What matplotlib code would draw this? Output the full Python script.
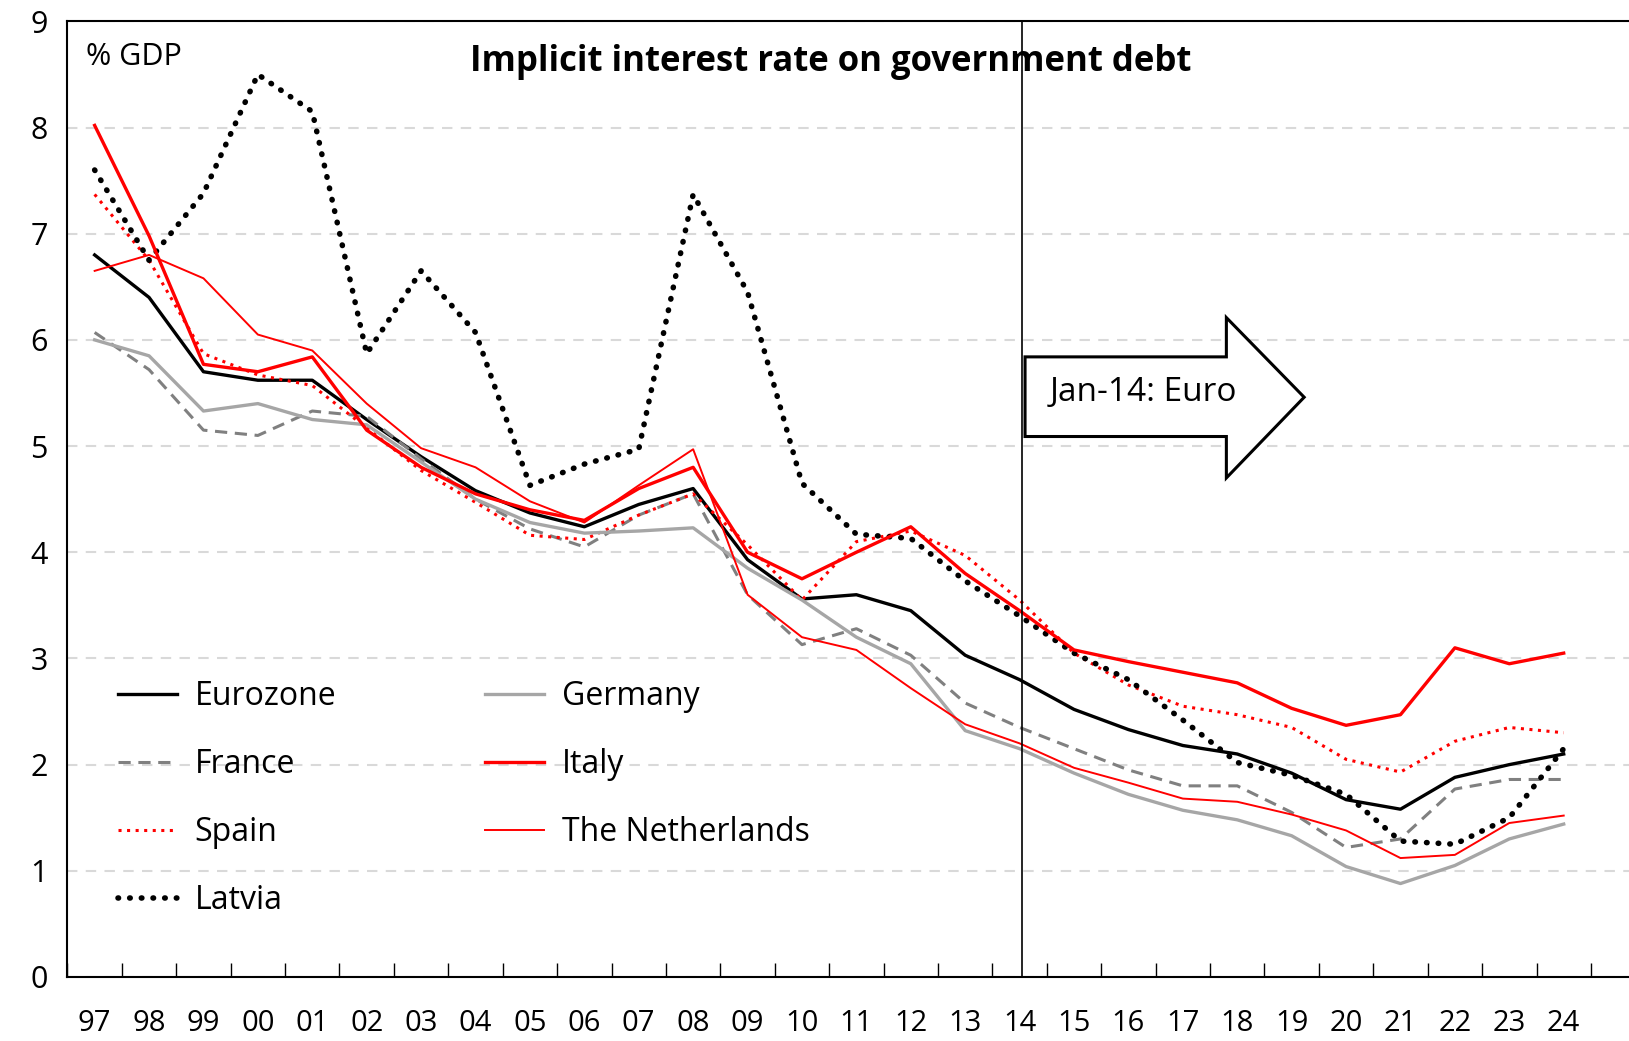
import numpy as np
import matplotlib.pyplot as plt
from matplotlib.patches import Polygon

years = ['97', '98', '99', '00', '01', '02', '03', '04', '05', '06', '07', '08', '09', '10',
         '11', '12', '13', '14', '15', '16', '17', '18', '19', '20', '21', '22', '23', '24']

eurozone = [6.8, 6.4, 5.7, 5.62, 5.62, 5.25, 4.9, 4.58, 4.37, 4.24, 4.45, 4.6, 3.93, 3.56,
            3.6, 3.45, 3.03, 2.8, 2.52, 2.33, 2.18, 2.1, 1.92, 1.67, 1.58, 1.88, 2.0, 2.1]
germany = [6.0, 5.85, 5.33, 5.4, 5.25, 5.2, 4.85, 4.5, 4.28, 4.18, 4.2, 4.23, 3.85, 3.55,
           3.2, 2.95, 2.32, 2.15, 1.92, 1.72, 1.57, 1.48, 1.33, 1.04, 0.88, 1.05, 1.3, 1.44]
france = [6.07, 5.72, 5.15, 5.1, 5.33, 5.28, 4.88, 4.5, 4.22, 4.05, 4.35, 4.55, 3.6, 3.13,
          3.28, 3.03, 2.58, 2.35, 2.15, 1.95, 1.8, 1.8, 1.55, 1.22, 1.3, 1.77, 1.86, 1.86]
italy = [8.02, 6.98, 5.77, 5.7, 5.84, 5.15, 4.8, 4.55, 4.4, 4.3, 4.6, 4.8, 4.0, 3.75,
         4.0, 4.24, 3.8, 3.45, 3.08, 2.97, 2.87, 2.77, 2.53, 2.37, 2.47, 3.1, 2.95, 3.05]
spain = [7.37, 6.75, 5.87, 5.67, 5.57, 5.17, 4.77, 4.47, 4.16, 4.12, 4.35, 4.55, 4.07, 3.55,
         4.1, 4.2, 3.97, 3.55, 3.05, 2.75, 2.55, 2.47, 2.35, 2.05, 1.93, 2.22, 2.35, 2.3]
netherlands = [6.65, 6.8, 6.58, 6.05, 5.9, 5.4, 4.98, 4.8, 4.48, 4.28, 4.63, 4.97, 3.6, 3.2,
               3.08, 2.72, 2.38, 2.2, 1.97, 1.83, 1.68, 1.65, 1.53, 1.38, 1.12, 1.15, 1.45, 1.52]
latvia = [7.6, 6.75, 7.38, 8.5, 8.15, 5.87, 6.65, 6.07, 4.63, 4.83, 4.97, 7.37, 6.45, 4.65,
          4.17, 4.13, 3.73, 3.4, 3.05, 2.8, 2.42, 2.02, 1.9, 1.72, 1.28, 1.25, 1.5, 2.15]

plt.rcParams['font.family'] = ['Open Sans', 'DejaVu Sans']

fig = plt.figure(figsize=(16.29, 10.41), dpi=100)
ax = fig.add_axes([0.0414, 0.0615, 0.9586, 0.918])

x = np.arange(len(years))

ax.plot(x, eurozone, color='black', linewidth=2.4, label='Eurozone')
ax.plot(x, france, color='#808080', linewidth=2.2, linestyle=(0, (4, 2.5)), label='France')
ax.plot(x, spain, color='#ff0000', linewidth=2.2, linestyle=(0, (1, 1.8)), label='Spain')
ax.plot(x, latvia, color='black', linewidth=4.0, linestyle=(0, (0.1, 2.0)),
        dash_capstyle='round', label='Latvia')
ax.plot(x, germany, color='#a6a6a6', linewidth=2.4, label='Germany')
ax.plot(x, italy, color='#ff0000', linewidth=2.4, label='Italy')
ax.plot(x, netherlands, color='#ff0000', linewidth=1.4, label='The Netherlands')

ax.axvline(17.05, color='black', linewidth=1.2)

# block arrow "Jan-14: Euro"
arrow = Polygon([(17.1, 5.09), (20.8, 5.09), (20.8, 4.70), (22.23, 5.46),
                 (20.8, 6.21), (20.8, 5.84), (17.1, 5.84)],
                closed=True, facecolor='white', edgecolor='black', linewidth=2.2, zorder=5)
ax.add_patch(arrow)
ax.text(17.55, 5.5, 'Jan-14: Euro', fontsize=24, va='center', ha='left', zorder=6)

ax.set_xlim(-0.5, 28.2)
ax.set_ylim(0, 9)

ax.set_yticks(np.arange(0, 10, 1))
ax.tick_params(axis='y', length=0, labelsize=22, pad=14)
ax.yaxis.grid(True, color='#d9d9d9', linestyle=(0, (5, 4)), linewidth=1.5)
ax.set_axisbelow(True)

ax.set_xticks(np.arange(-0.5, 28.5, 1))
ax.set_xticklabels([])
ax.set_xticks(x, minor=True)
ax.set_xticklabels(years, minor=True)
ax.tick_params(axis='x', which='major', direction='in', length=10, width=1)
ax.tick_params(axis='x', which='minor', length=0, labelsize=21, pad=23)

ax.spines['right'].set_visible(False)
for s in ['left', 'bottom', 'top']:
    ax.spines[s].set_linewidth(1.5)

ax.text(0.012, 0.978, '% GDP', transform=ax.transAxes, fontsize=22, va='top', ha='left')
ax.text(0.489, 0.976, 'Implicit interest rate on government debt', transform=ax.transAxes,
        fontsize=25, fontweight='bold', va='top', ha='center')

ax.legend(ncol=2, loc='upper left', bbox_to_anchor=(0.014, 0.341), frameon=False,
          fontsize=23, handlelength=1.85, handletextpad=0.55, columnspacing=4.65,
          labelspacing=1.1)

plt.savefig('out.png')
